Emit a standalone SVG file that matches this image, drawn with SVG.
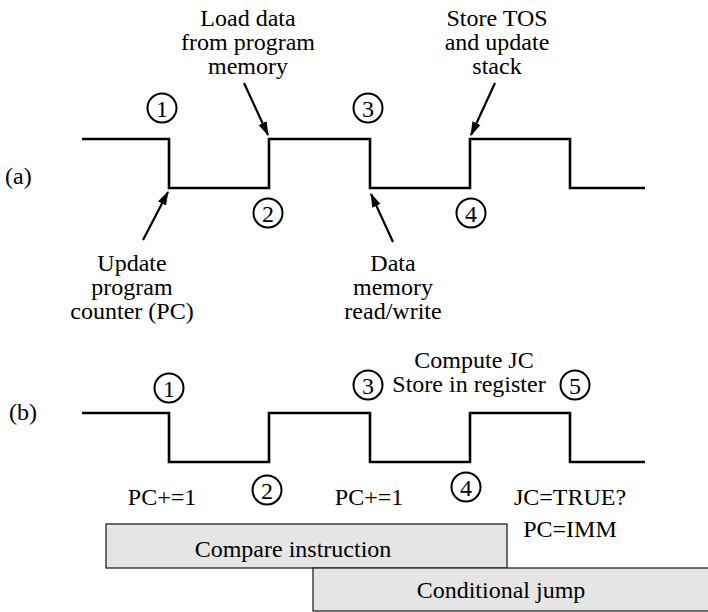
<svg xmlns="http://www.w3.org/2000/svg" width="708" height="612" viewBox="0 0 708 612">
<defs>
<style>
.m{text-anchor:middle}
.d{text-anchor:middle}
.wave{fill:none;stroke:#000;stroke-width:2.6}
.circ{fill:none;stroke:#000;stroke-width:2}
.arr{fill:none;stroke:#000;stroke-width:2.2;marker-end:url(#ah)}
.box{fill:#e5e5e5;stroke:#333;stroke-width:1.4}
</style>
<marker id="ah" markerWidth="14" markerHeight="10" refX="13" refY="5" orient="auto" markerUnits="userSpaceOnUse">
<path d="M0,0.5 L14,5 L0,9.5 Z" fill="#000"/>
</marker>
</defs>
<rect width="708" height="612" fill="#fff"/>

<g font-family="'Liberation Serif', serif" font-size="24" fill="#000">
<g id="label-a"><text x="5" y="184">(a)</text></g>
<g id="label-b"><text x="9" y="420">(b)</text></g>

<g id="wave-a"><path class="wave" d="M82,139 H169 V188 H269 V139 H370 V188 H470 V139 H570 V188 H645"/></g>
<g id="wave-b"><path class="wave" d="M82,413 H169 V462 H269 V413 H370 V462 H470 V413 H570 V462 H645"/></g>

<g id="a-c1"><circle class="circ" cx="162" cy="108" r="14.5"/><text class="d" font-size="24" x="162" y="116.5">1</text></g>
<g id="a-c2"><circle class="circ" cx="268" cy="213" r="14.5"/><text class="d" font-size="24" x="268" y="221.5">2</text></g>
<g id="a-c3"><circle class="circ" cx="368" cy="108" r="14.5"/><text class="d" font-size="24" x="368" y="116.5">3</text></g>
<g id="a-c4"><circle class="circ" cx="471" cy="213" r="14.5"/><text class="d" font-size="24" x="471" y="221.5">4</text></g>

<g id="a-load"><text class="m" x="248" y="26">Load data</text><text class="m" x="248" y="50">from program</text><text class="m" x="248" y="74">memory</text></g>
<g id="a-store"><text class="m" x="497" y="26">Store TOS</text><text class="m" x="497" y="50">and update</text><text class="m" x="497" y="74">stack</text></g>
<g id="a-update"><text class="m" x="132" y="271">Update</text><text class="m" x="132" y="295">program</text><text class="m" x="132" y="319">counter (PC)</text></g>
<g id="a-data"><text class="m" x="393" y="271">Data</text><text class="m" x="393" y="295">memory</text><text class="m" x="393" y="319">read/write</text></g>

<g id="b-c1"><circle class="circ" cx="169" cy="388" r="14.5"/><text class="d" font-size="24" x="169" y="396.5">1</text></g>
<g id="b-c2"><circle class="circ" cx="267" cy="490" r="14.5"/><text class="d" font-size="24" x="267" y="498.5">2</text></g>
<g id="b-c3"><circle class="circ" cx="368" cy="385" r="14.5"/><text class="d" font-size="24" x="368" y="393.5">3</text></g>
<g id="b-c4"><circle class="circ" cx="466" cy="487" r="14.5"/><text class="d" font-size="24" x="466" y="495.5">4</text></g>
<g id="b-c5"><circle class="circ" cx="575" cy="385" r="14.5"/><text class="d" font-size="24" x="575" y="393.5">5</text></g>

<g id="b-compute"><text class="m" x="474" y="368">Compute JC</text><text class="m" x="469" y="392">Store in register</text></g>
<g id="b-pc1"><text class="m" x="162" y="505">PC+=1</text></g>
<g id="b-pc2"><text class="m" x="369" y="505">PC+=1</text></g>
<g id="b-jc"><text class="m" x="570" y="505">JC=TRUE?</text><text class="m" x="570" y="537">PC=IMM</text></g>

<g id="box-compare"><rect class="box" x="106" y="524" width="401" height="44"/><text class="m" x="293" y="557">Compare instruction</text></g>
<g id="box-jump"><rect class="box" x="313" y="568" width="396" height="43"/><text class="m" x="501" y="598">Conditional jump</text></g>
</g>

<g id="connectors">
<line class="arr" x1="244" y1="83" x2="268" y2="135"/>
<line class="arr" x1="495" y1="83" x2="471" y2="135"/>
<line class="arr" x1="143" y1="240" x2="168" y2="192"/>
<line class="arr" x1="393" y1="242" x2="371" y2="194"/>
</g>
</svg>
